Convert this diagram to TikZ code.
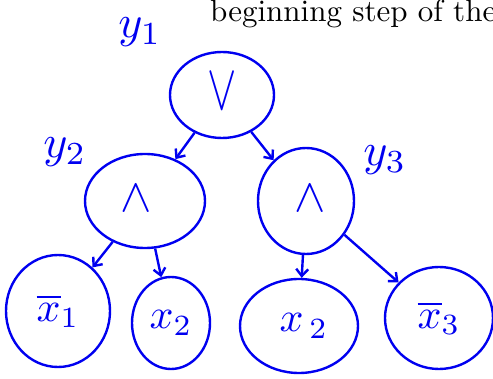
\documentclass[tikz,border=0pt]{standalone}
\usetikzlibrary{shapes.geometric,arrows.meta}
\definecolor{pen}{RGB}{0,0,240}
\newcommand{\opsym}[1]{\scalebox{4.7}{$#1$}}
\newcommand{\varsym}[1]{\scalebox{4.2}{$#1$}}
\begin{document}
\begin{tikzpicture}[x=1pt,y=-1pt,
  gate/.style={draw=pen,line width=2.4pt,ellipse,inner sep=0pt,text=pen},
  lab/.style={text=pen,inner sep=0pt},
  edge/.style={draw=pen,line width=2.4pt,-{Straight Barb[length=7pt,width=12pt]}}]
\useasboundingbox (0,0) rectangle (493,379);
\node[anchor=base west,inner sep=0pt] (txt) at (210,22) {\scalebox{3.1}{beginning step of the}};
\node[gate,minimum width=104pt,minimum height=86pt] (root) at (222,95) {\raisebox{7pt}{\scalebox{4.4}[6.5]{$\vee$}}};
\node[gate,minimum width=120pt,minimum height=94pt] (andL) at (145,201) {\hspace*{-18pt}\raisebox{5pt}{\opsym{\wedge}}};
\node[gate,minimum width=96pt,minimum height=106pt] (andR) at (306,201) {\raisebox{5pt}{\opsym{\wedge}}\hspace*{-8pt}};
\node[gate,minimum width=104pt,minimum height=112pt] (x1) at (58,311) {\raisebox{5pt}{\varsym{\overline{x}_1}}};
\node[gate,minimum width=78pt,minimum height=92pt] (x2a) at (171,323) {\raisebox{-3pt}{\varsym{x_2}}};
\node[gate,minimum width=118pt,minimum height=94pt] (x2b) at (299,326) {\raisebox{-2pt}{\varsym{x_{\,2}}}\hspace*{-10pt}};
\node[gate,minimum width=108pt,minimum height=102pt] (x3) at (439,318) {\varsym{\overline{x}_3}};
\node[lab] (y1) at (140,32) {\scalebox{4.6}{$y_1$}};
\node[lab] (y2) at (65,152) {\scalebox{4.6}{$y_2$}};
\node[lab] (y3) at (385,160) {\scalebox{4.6}{$y_3$}};
\draw[edge] (root) -- (andL);
\draw[edge] (root) -- (andR);
\draw[edge] (andL) -- (x1);
\draw[edge] (andL) -- (x2a);
\draw[edge] (andR) -- (x2b);
\draw[edge] (andR) -- (x3);
\end{tikzpicture}
\end{document}
